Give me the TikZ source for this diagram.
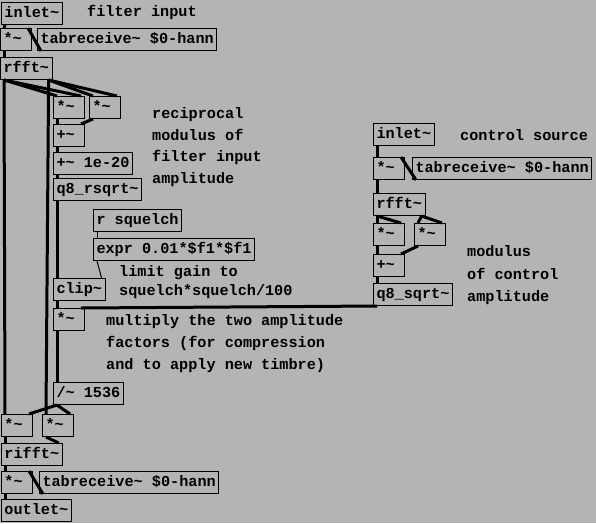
\documentclass[tikz,border=0pt]{standalone}
\usepackage{fontspec}
\newfontfamily\pdfont{Liberation Mono}
\newcommand\tld{\textasciitilde}
\newcommand\pdsize{\fontsize{15.2}{21.7}\selectfont}
\definecolor{pdbg}{RGB}{180,180,180}
\definecolor{pdnub}{RGB}{55,55,55}

\begin{document}
\begin{tikzpicture}[x=1pt,y=-1pt,
  pd/.style={draw,fill=pdbg,line width=1pt,anchor=north west,minimum height=22pt,
    inner xsep=3pt,inner ysep=0pt,text height=10.5pt,text depth=3pt,font=\pdfont\bfseries\pdsize},
  short/.style={text width=25pt,align=left},
  nub/.style={fill=pdnub},
  inl/.style={append after command={\pgfextra{\fill[nub] (\tikzlastnode.north west) rectangle ++(8pt,-3pt);}}},
  inr/.style={append after command={\pgfextra{\fill[nub] (\tikzlastnode.north east) rectangle ++(-8pt,-3pt);}}},
  inm/.style={append after command={\pgfextra{\fill[nub] ([xshift=-4pt]\tikzlastnode.north) rectangle ++(8pt,-3pt);}}},
  outl/.style={append after command={\pgfextra{\fill[nub] (\tikzlastnode.south west) rectangle ++(8pt,3pt);}}},
  outr/.style={append after command={\pgfextra{\fill[nub] (\tikzlastnode.south east) rectangle ++(-8pt,3pt);}}},
  note/.style={anchor=west,align=left,inner sep=0pt,font=\pdfont\bfseries\pdsize},
  sig/.style={line width=3pt},
  ctl/.style={line width=1pt}]
  \fill[pdbg] (0,0) rectangle (596,523);
  \useasboundingbox (0,0) rectangle (596,523);

  % filter input
  \node[pd,outl] (inA) at (1,2) {inlet\tld};
  \node[pd,short,inl,inr,outl] (mulA) at (0,28) {*\tld};
  \node[pd,inl,outl] (tabA) at (37,28) {tabreceive\tld{} \$0-hann};
  \node[pd,inl,outl,outr] (fftA) at (0,57) {rfft\tld};
  \node[pd,short,inl,inr,outl] (sqA1) at (53,96) {*\tld};
  \node[pd,short,inl,inr,outl] (sqA2) at (89,96) {*\tld};
  \node[pd,short,inl,inr,outl] (addA) at (53,124) {+\tld};
  \node[pd,inl,inr,outl] (epsA) at (53,152) {+\tld{} 1e-20};
  \node[pd,inl,outl] (rsqrt) at (53,178) {q8\_rsqrt\tld};
  \node[pd,outl] (rsq) at (93,209) {r squelch};
  \node[pd,inl,outl] (expr) at (93,238) {expr 0.01*\$f1*\$f1};
  \node[pd,inl,inm,inr,outl] (clip) at (53,278) {clip\tld};
  \node[pd,short,inl,inr,outl] (mulG) at (53,308) {*\tld};
  \node[pd,inl,inr,outl] (div) at (53,382) {/\tld{} 1536};
  \node[pd,short,inl,inr,outl] (mulR) at (1,414) {*\tld};
  \node[pd,short,inl,inr,outl] (mulI) at (42,414) {*\tld};
  \node[pd,inl,inr,outl] (ifft) at (1,443) {rifft\tld};
  \node[pd,short,inl,inr,outl] (mulW) at (1,471) {*\tld};
  \node[pd,inl,outl] (tabW) at (39,471) {tabreceive\tld{} \$0-hann};
  \node[pd,inl] (outA) at (1,499) {outlet\tld};

  % control source
  \node[pd,outl] (inB) at (373,123) {inlet\tld};
  \node[pd,short,inl,inr,outl] (mulB) at (373,157) {*\tld};
  \node[pd,inl,outl] (tabB) at (412,157) {tabreceive\tld{} \$0-hann};
  \node[pd,inl,outl,outr] (fftB) at (373,193) {rfft\tld};
  \node[pd,short,inl,inr,outl] (sqB1) at (373,223) {*\tld};
  \node[pd,short,inl,inr,outl] (sqB2) at (414,223) {*\tld};
  \node[pd,short,inl,inr,outl] (addB) at (373,254) {+\tld};
  \node[pd,inl,outl] (sqrt) at (373,283) {q8\_sqrt\tld};

  % comments
  \node[note] (c1) at (87,12) {filter input};
  \node[note] (c2) at (152,147) {reciprocal\\modulus of\\filter input\\amplitude};
  \node[note,font=\pdfont\bfseries\fontsize{15.2}{18.5}\selectfont] (c3) at (119,282) {limit gain to\\squelch*squelch/100};
  \node[note] (c4) at (106,343.5) {multiply the two amplitude\\factors (for compression\\and to apply new timbre)};
  \node[note] (c5) at (460,135) {control source};
  \node[note,font=\pdfont\bfseries\fontsize{15.2}{22.5}\selectfont] (c6) at (467,275.5) {modulus\\of control\\amplitude};

  % connections
  \draw[sig] ([xshift=4pt]inA.south west) -- ([xshift=4pt]mulA.north west);
  \draw[sig] ([xshift=4pt]tabA.south west) -- ([xshift=-4pt]mulA.north east);
  \draw[sig] ([xshift=4pt]mulA.south west) -- ([xshift=4pt]fftA.north west);
  \draw[sig] ([xshift=4pt]fftA.south west) -- ([xshift=4pt]sqA1.north west);
  \draw[sig] ([xshift=4pt]fftA.south west) -- ([xshift=-4pt]sqA1.north east);
  \draw[sig] ([xshift=-4pt]fftA.south east) -- ([xshift=4pt]sqA2.north west);
  \draw[sig] ([xshift=-4pt]fftA.south east) -- ([xshift=-4pt]sqA2.north east);
  \draw[sig] ([xshift=4pt]fftA.south west) -- ([xshift=4pt]mulR.north west);
  \draw[sig] ([xshift=-4pt]fftA.south east) -- ([xshift=4pt]mulI.north west);
  \draw[sig] ([xshift=4pt]sqA1.south west) -- ([xshift=4pt]addA.north west);
  \draw[sig] ([xshift=4pt]sqA2.south west) -- ([xshift=-4pt]addA.north east);
  \draw[sig] ([xshift=4pt]addA.south west) -- ([xshift=4pt]epsA.north west);
  \draw[sig] ([xshift=4pt]epsA.south west) -- ([xshift=4pt]rsqrt.north west);
  \draw[sig] ([xshift=4pt]rsqrt.south west) -- ([xshift=4pt]clip.north west);
  \draw[ctl] ([xshift=4pt]rsq.south west) -- ([xshift=4pt]expr.north west);
  \draw[ctl] ([xshift=4pt]expr.south west) -- ([xshift=-4pt]clip.north east);
  \draw[sig] ([xshift=4pt]clip.south west) -- ([xshift=4pt]mulG.north west);
  \draw[sig] ([xshift=4pt]sqrt.south west) -- ([xshift=-4pt]mulG.north east);
  \draw[sig] ([xshift=4pt]mulG.south west) -- ([xshift=4pt]div.north west);
  \draw[sig] ([xshift=4pt]div.south west) -- ([xshift=-4pt]mulR.north east);
  \draw[sig] ([xshift=4pt]div.south west) -- ([xshift=-4pt]mulI.north east);
  \draw[sig] ([xshift=4pt]mulR.south west) -- ([xshift=4pt]ifft.north west);
  \draw[sig] ([xshift=4pt]mulI.south west) -- ([xshift=-4pt]ifft.north east);
  \draw[sig] ([xshift=4pt]ifft.south west) -- ([xshift=4pt]mulW.north west);
  \draw[sig] ([xshift=4pt]tabW.south west) -- ([xshift=-4pt]mulW.north east);
  \draw[sig] ([xshift=4pt]mulW.south west) -- ([xshift=4pt]outA.north west);

  \draw[sig] ([xshift=4pt]inB.south west) -- ([xshift=4pt]mulB.north west);
  \draw[sig] ([xshift=4pt]tabB.south west) -- ([xshift=-4pt]mulB.north east);
  \draw[sig] ([xshift=4pt]mulB.south west) -- ([xshift=4pt]fftB.north west);
  \draw[sig] ([xshift=4pt]fftB.south west) -- ([xshift=4pt]sqB1.north west);
  \draw[sig] ([xshift=4pt]fftB.south west) -- ([xshift=-4pt]sqB1.north east);
  \draw[sig] ([xshift=-4pt]fftB.south east) -- ([xshift=4pt]sqB2.north west);
  \draw[sig] ([xshift=-4pt]fftB.south east) -- ([xshift=-4pt]sqB2.north east);
  \draw[sig] ([xshift=4pt]sqB1.south west) -- ([xshift=4pt]addB.north west);
  \draw[sig] ([xshift=4pt]sqB2.south west) -- ([xshift=-4pt]addB.north east);
  \draw[sig] ([xshift=4pt]addB.south west) -- ([xshift=4pt]sqrt.north west);
\end{tikzpicture}
\end{document}
